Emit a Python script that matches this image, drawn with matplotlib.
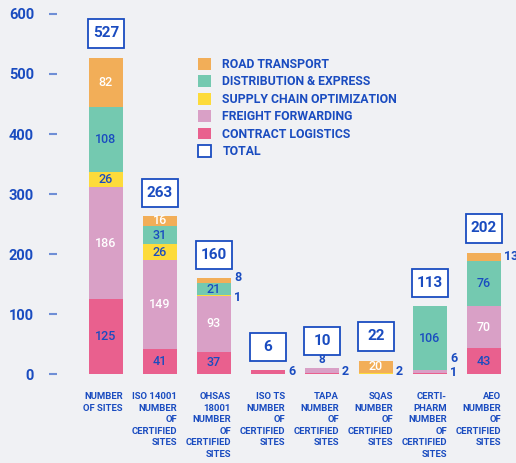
import matplotlib
matplotlib.use("Agg")
import matplotlib.pyplot as plt
from matplotlib.patches import Rectangle, Patch
import matplotlib.transforms as mtransforms

# ---- data ----
categories = ["NUMBER\nOF SITES",
              "ISO 14001\nNUMBER\nOF\nCERTIFIED\nSITES",
              "OHSAS\n18001\nNUMBER\nOF\nCERTIFIED\nSITES",
              "ISO TS\nNUMBER\nOF\nCERTIFIED\nSITES",
              "TAPA\nNUMBER\nOF\nCERTIFIED\nSITES",
              "SQAS\nNUMBER\nOF\nCERTIFIED\nSITES",
              "CERTI-\nPHARM\nNUMBER\nOF\nCERTIFIED\nSITES",
              "AEO\nNUMBER\nOF\nCERTIFIED\nSITES"]
contract_logistics = [125, 41, 37, 6, 2, 0, 1, 43]
freight_forwarding = [186, 149, 93, 0, 8, 0, 6, 70]
supply_chain = [26, 26, 1, 0, 0, 2, 0, 0]
distribution_express = [108, 31, 21, 0, 0, 0, 106, 76]
road_transport = [82, 16, 8, 0, 0, 20, 0, 13]
totals = [527, 263, 160, 6, 10, 22, 113, 202]
series_names = ["CONTRACT LOGISTICS", "FREIGHT FORWARDING", "SUPPLY CHAIN OPTIMIZATION",
                "DISTRIBUTION & EXPRESS", "ROAD TRANSPORT"]
yticks = [0, 100, 200, 300, 400, 500, 600]

# ---- style ----
BG = "#F0F1F4"
BLUE = "#1A4CC0"
TICKC = "#6F8FD6"
colors = ["#E9608E", "#D9A0C6", "#FDDB3A", "#74C9B0", "#F2AE58"]
text_colors = [BLUE, "white", BLUE, BLUE, "white"]
series = [contract_logistics, freight_forwarding, supply_chain, distribution_express, road_transport]
FONT = ["Roboto", "DejaVu Sans"]
plt.rcParams["font.family"] = FONT

# labels placed outside (category, series index): (mode, dy in px)
outside = {(2, 4): ("right", 3), (2, 2): ("right", -2), (3, 0): ("right", 1),
           (4, 1): ("above", 2), (4, 0): ("right", 2), (5, 2): ("right", 1.5),
           (6, 0): ("right", 1.7), (6, 1): ("right", 13.6), (7, 4): ("right", 0)}
box_extra_gap = {0: 2, 3: 1, 4: 6, 5: 2, 7: 2}

W, H, DPI = 516, 463, 100
fig = plt.figure(figsize=(W / DPI, H / DPI), dpi=DPI, facecolor=BG)
ax = fig.add_axes([57 / W, (H - 374) / H, (W - 57) / W, 360 / H], facecolor=BG)
px2pt = 72 / DPI

bw = 0.63
x = list(range(len(categories)))
bottoms = [0] * len(x)
for si, vals in enumerate(series):
    ax.bar(x, vals, bw, bottom=bottoms, color=colors[si], linewidth=0, zorder=2)
    for i, v in enumerate(vals):
        if v <= 0:
            continue
        yc = bottoms[i] + v / 2
        if (i, si) in outside:
            mode, dy = outside[(i, si)]
            if mode == "right":
                ax.annotate(str(v), (i + bw / 2, yc), xytext=(3 * px2pt, dy * px2pt),
                            textcoords="offset points", ha="left", va="center",
                            fontsize=9, fontweight="bold", color=BLUE)
            else:
                ax.annotate(str(v), (i, bottoms[i] + v), xytext=(0, dy * px2pt),
                            textcoords="offset points", ha="center", va="bottom",
                            fontsize=8.5, fontweight="bold", color=BLUE)
        else:
            ax.text(i, yc, str(v), ha="center", va="center", fontsize=9,
                    fontweight="medium", color=text_colors[si], zorder=3)
    bottoms = [b + v for b, v in zip(bottoms, vals)]

# total boxes
for i, t in enumerate(totals):
    b0 = t + 15 + box_extra_gap.get(i, 0)
    ax.add_patch(Rectangle((i - 0.33, b0), 0.66, 47, facecolor="white",
                           edgecolor=BLUE, linewidth=1.3, zorder=3))
    ax.text(i, b0 + 23.5, str(t), ha="center", va="center", fontsize=11,
            fontweight="bold", color=BLUE, zorder=4)

ax.set_xlim(-0.907, 7.593)
ax.set_ylim(0, 600)
ax.set_yticks(yticks)
ax.set_yticklabels([str(v) for v in yticks], fontsize=10.5, fontweight="bold", color=BLUE)
ax.tick_params(axis="y", length=8 * px2pt, width=1.5, color=TICKC, pad=15 * px2pt)
ax.set_xticks([])
for s in ax.spines.values():
    s.set_visible(False)

# category labels
trans = mtransforms.blended_transform_factory(ax.transData, ax.transAxes)
for i, lab in enumerate(categories):
    ax.text(i + bw / 2, -18 / 360, lab, transform=trans, ha="right", va="top",
            multialignment="right", fontsize=6.8, fontweight="bold", color=BLUE,
            linespacing=1.36)

# legend
handles = [Patch(facecolor=colors[k], edgecolor="none", label=series_names[k]) for k in [4, 3, 2, 1, 0]]
handles.append(Patch(facecolor="white", edgecolor=BLUE, linewidth=1.3, label="TOTAL"))
leg = ax.legend(handles=handles, loc="upper left", bbox_to_anchor=(187 / W, 1 - 47 / H),
                bbox_transform=fig.transFigure, frameon=False, handlelength=1.1,
                handleheight=1.1, handletextpad=0.9, labelspacing=0.36,
                prop={"weight": "bold", "size": 8.8})
for txt in leg.get_texts():
    txt.set_color(BLUE)

fig.savefig("out.png", dpi=DPI, facecolor=BG)
